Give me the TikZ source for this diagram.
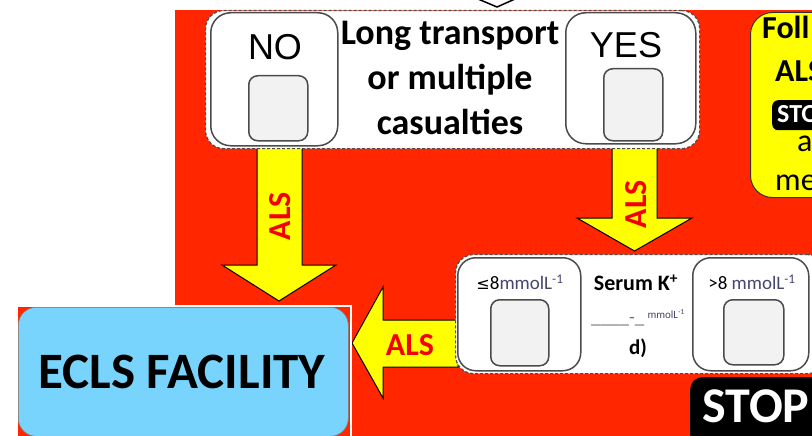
\documentclass[tikz,border=0pt]{standalone}
\usepackage{fontspec}
\setmainfont{Carlito}
\newfontfamily\arialf{Liberation Sans}
\newfontfamily\symf{DejaVu Sans}
\definecolor{bgred}{RGB}{255,38,0}
\definecolor{arrowyellow}{RGB}{255,255,0}
\definecolor{eclsblue}{RGB}{120,212,252}
\definecolor{boxgray}{RGB}{242,242,242}
\definecolor{edgegray}{RGB}{75,75,75}
\definecolor{alsred}{RGB}{245,0,0}
\definecolor{unitcol}{RGB}{70,70,110}
\newcommand{\fsz}[1]{\fontsize{#1}{#1}\selectfont}
\begin{document}
\begin{tikzpicture}[x=1pt,y=-1pt,
  container/.style={fill=white, draw=edgegray, dash pattern=on 3pt off 2pt, line width=1.2pt, rounded corners=18pt, inner sep=0pt, anchor=north west},
  choicebox/.style={fill=white, draw=edgegray, line width=1.5pt, rounded corners=20pt, inner sep=0pt, anchor=north west},
  checkbox/.style={fill=boxgray, draw=edgegray, line width=1.5pt, rounded corners=9pt, inner sep=0pt, anchor=north west},
  blockarrow/.style={fill=arrowyellow, draw=black, line width=1pt, line join=miter},
  alslabel/.style={text=alsred, font=\bfseries\fsz{32}, inner sep=0pt},
  bigtext/.style={font=\bfseries\fsz{36}, anchor=base, inner sep=0pt},
  choicetext/.style={font=\arialf\fsz{36}, inner sep=0pt},
  smalltext/.style={font=\fsz{19}, inner sep=0pt},
]
\useasboundingbox (0,0) rectangle (812,436);
\clip (0,0) rectangle (812,436);
\fill[white] (0,0) rectangle (812,436);
% red background
\fill[bgred] (175,10) rectangle (812,436);
% chevron at the top
\draw[black, line width=1.5pt] (478,-1) -- (497,7) -- (515,-1);

% block arrows
\draw[blockarrow] (257,146) -- (302,146) -- (302,265) -- (336,265) -- (279,301) -- (222,265) -- (257,265) -- cycle;
\draw[blockarrow] (612,143) -- (657,143) -- (657,218) -- (692,218) -- (634.5,251) -- (577,218) -- (612,218) -- cycle;
\draw[blockarrow] (458,320) -- (383,320) -- (383,287) -- (352,343) -- (383,398) -- (383,367) -- (458,367) -- cycle;
\node[alslabel, rotate=90] (als1) at (280,216) {ALS};
\node[alslabel, rotate=90] (als2) at (636,204) {ALS};
\node[alslabel] (als3) at (410,345) {ALS};

% top decision container
\node[container, minimum width=494pt, minimum height=138pt] (topcont) at (205,10) {};
\node[choicebox, minimum width=127pt, minimum height=133pt] (nobox) at (210,12) {};
\node[choicetext] (notext) at (275,47) {NO};
\node[checkbox, minimum width=59pt, minimum height=65pt] (nocheck) at (248,75) {};
\node[choicebox, minimum width=130pt, minimum height=131pt] (yesbox) at (565,12) {};
\node[choicetext] (yestext) at (626,45) {YES};
\node[checkbox, minimum width=59pt, minimum height=72pt] (yescheck) at (603,68) {};
\node[bigtext] (lt1) at (450,45) {Long transport};
\node[bigtext] (lt2) at (450,90) {or multiple};
\node[bigtext] (lt3) at (450,134) {casualties};

% follow ALS box (cut at the right edge)
\node[fill=arrowyellow, draw=black!80, line width=1pt, rounded corners=22pt, inner sep=0pt, anchor=north west, minimum width=100pt, minimum height=185pt] (followbox) at (750,12) {};
\node[font=\bfseries\fsz{32}, anchor=base west, inner sep=0pt] (f1) at (762,39) {Foll};
\node[font=\bfseries\fsz{32}, anchor=base west, inner sep=0pt] (f2) at (775,82) {ALS};
\node[fill=black, rounded corners=6pt, inner sep=0pt, anchor=north west, minimum width=60pt, minimum height=30pt] (fstop) at (772,100) {};
\node[font=\bfseries\fsz{26}, text=white, anchor=base west, inner sep=0pt, text depth=0pt] (f3) at (777,123) {STO};
\node[font=\fsz{32}, anchor=base west, inner sep=0pt, text height=0.5em] (f4) at (797,151) {a};
\node[font=\fsz{32}, anchor=base west, inner sep=0pt] (f5) at (775,190) {me};

% serum K container
\node[container, minimum width=370pt, minimum height=119pt] (serumcont) at (455,254) {};
\node[choicebox, rounded corners=18pt, minimum width=123pt, minimum height=113pt] (lowbox) at (457,257) {};
\node[smalltext] (lowtext) at (520,282) {{\symf\fsz{16}≤}8\textcolor{unitcol}{mmolL\textsuperscript{-1}}};
\node[checkbox, minimum width=58pt, minimum height=66pt] (lowcheck) at (490,299) {};
\node[choicebox, rounded corners=18pt, minimum width=116pt, minimum height=113pt] (highbox) at (692,257) {};
\node[smalltext] (hightext) at (752,282) {>8 \textcolor{unitcol}{mmolL\textsuperscript{-1}}};
\node[checkbox, minimum width=60pt, minimum height=65pt] (highcheck) at (723,299) {};
\node[font=\bfseries\fsz{22}, inner sep=0pt] (serumtext) at (636,283) {Serum K\textsuperscript{+}};
\node[font=\fsz{19}, inner sep=0pt] (serumval) at (638,318) {\textcolor{black!55}{\_\_\_\_-\_}\,\raisebox{5pt}{\textcolor{unitcol}{\fsz{11}mmolL\textsuperscript{-1}}}};
\node[font=\bfseries\fsz{21}, inner sep=0pt] (serumd) at (638,348) {d)};

% STOP
\node[fill=black, rounded corners=12pt, inner sep=0pt, anchor=north west, minimum width=140pt, minimum height=70pt] (stopbox) at (690,377) {};
\node[font=\bfseries\fsz{50}, text=white, inner sep=0pt] (stoptext) at (756,406) {STOP};

% ECLS facility
\node[fill=bgred, draw=white, line width=2pt, inner sep=0pt, anchor=north west, minimum width=334pt, minimum height=140pt] (eclsframe) at (16,305) {};
\node[fill=eclsblue, draw=black!50, line width=0.6pt, rounded corners=18pt, inner sep=0pt, anchor=north west, minimum width=330pt, minimum height=129pt] (eclsbox) at (18,307) {};
\node[font=\bfseries\fsz{51}, inner sep=0pt] (eclstext) at (182,372) {ECLS FACILITY};
\end{tikzpicture}
\end{document}
